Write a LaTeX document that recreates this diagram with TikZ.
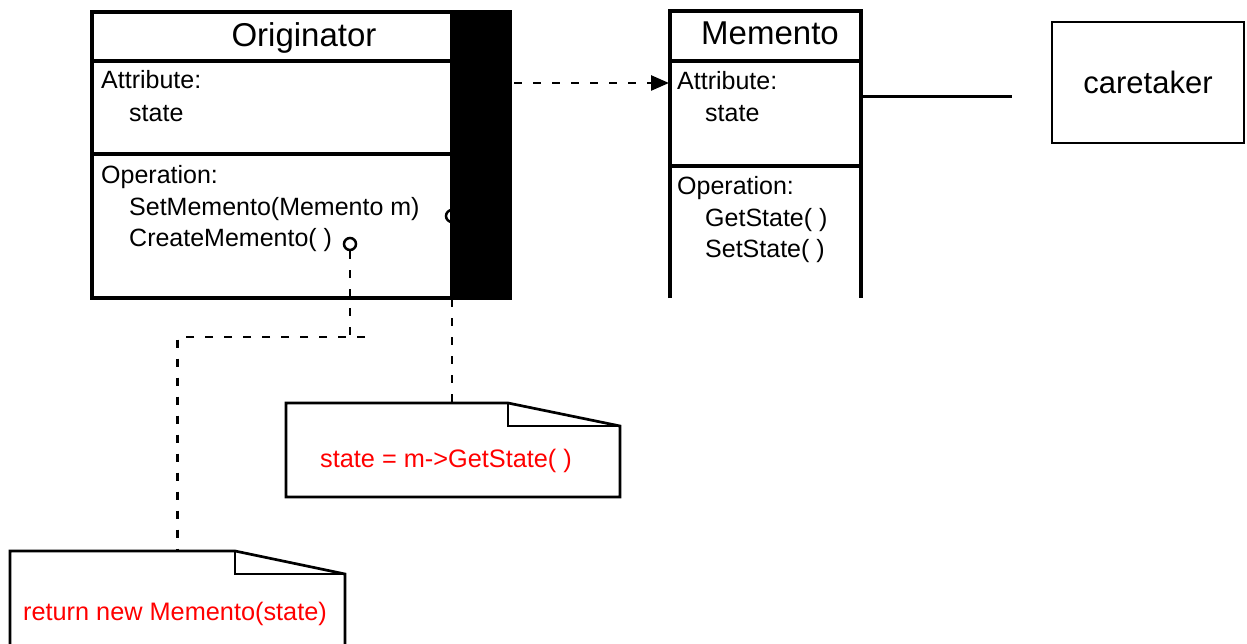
\documentclass[tikz,border=0pt]{standalone}
\usepackage{fontspec}
\setmainfont{Liberation Sans}
\usetikzlibrary{arrows.meta}
\begin{document}
\begin{tikzpicture}[x=1pt,y=-1pt,
  boxline/.style={draw,line width=3.2pt},
  noteline/.style={draw,line width=2.7pt,line join=miter},
  lbl/.style={anchor=base west,inner sep=0pt,font=\fontsize{25}{29}\selectfont},
  ttl/.style={anchor=base,inner sep=0pt,font=\fontsize{33}{37}\selectfont},
  notetext/.style={anchor=base,inner sep=0pt,text=red,font=\fontsize{25.3}{29}\selectfont},
  dline/.style={line width=2.5pt,dash pattern=on 8pt off 11pt},
  port/.style={circle,draw,line width=2.5pt,minimum size=12pt,inner sep=0pt,fill=white}
]
\useasboundingbox (0,0) rectangle (1247,644);

% ---------- Originator ----------
\coordinate (orgNW) at (92,12);
\coordinate (orgSE) at (510,298);
% port of SetMemento and its link (drawn under the black bar)
\node[port] (c2) at (452,216) {};
\node[minimum width=334pt,minimum height=94pt,anchor=north west,inner sep=0pt] (n2) at (286,403) {};
\draw[dline] (c2.south) -- (c2.south |- n2.north);
\draw[boxline] (orgNW) rectangle (orgSE);
\fill (450,12) rectangle (510,298);
\draw[boxline] (92,61) -- (510,61);
\draw[boxline] (92,154) -- (510,154);
\node[ttl] (orgT) at (304,47) {Originator};
\node[lbl] (orgA) at (101,89) {Attribute:};
\node[lbl] (orgS) at (129,122) {state};
\node[lbl] (orgO) at (101,184) {Operation:};
\node[lbl] (orgO1) at (129,216) {SetMemento(Memento m)};
\node[lbl] (orgO2) at (129,247) {CreateMemento( )};
\node[port] (c1) at (350,244) {};

% ---------- Memento ----------
\draw[boxline] (670,298) -- (670,11) -- (861,11) -- (861,298);
\draw[boxline] (670,61) -- (861,61);
\draw[boxline] (670,166) -- (861,166);
\node[ttl] (memT) at (770,45) {Memento};
\node[lbl] (memA) at (677,90) {Attribute:};
\node[lbl] (memS) at (705,122) {state};
\node[lbl] (memO) at (677,195) {Operation:};
\node[lbl] (memO1) at (705,227) {GetState( )};
\node[lbl] (memO2) at (705,258) {SetState( )};

% dependency arrow
\coordinate (depS) at (514,83);
\coordinate (depE) at (669,83);
\draw[dline,-{Triangle[length=18pt,width=15pt]}] (depS) -- (depE);

% ---------- caretaker ----------
\node[draw,line width=2.5pt,minimum width=192pt,minimum height=121pt,inner sep=0pt,
      font=\fontsize{31}{36}\selectfont] (care) at (1148,82.5) {caretaker};
\coordinate (memR) at (861,97);
\coordinate (careL) at (1012,97);
\draw[line width=3pt] (memR) -- (careL);

% ---------- note 2 ----------
\draw[noteline] (286,403) -- (508,403) -- (620,426) -- (620,497) -- (286,497) -- cycle;
\draw[noteline] (508,403) -- (508,426) -- (620,426);
\node[notetext] (n2t) at (446,467) {state = m->GetState( )};

% ---------- note 1 ----------
\node[minimum width=335pt,minimum height=93pt,anchor=north west,inner sep=0pt] (n1) at (10,551) {};
\draw[noteline] (10,648) -- (10,551) -- (235,551) -- (345,574) -- (345,648);
\draw[noteline] (235,551) -- (235,574) -- (345,574);
\node[notetext] (n1t) at (175,620) {return new Memento(state)};

% link from CreateMemento port to note 1
\coordinate (j1) at (365,337);
\draw[dline] (c1.south) -- (c1.south |- j1);
\draw[dline] (j1) -| (n1.north);
\end{tikzpicture}
\end{document}
